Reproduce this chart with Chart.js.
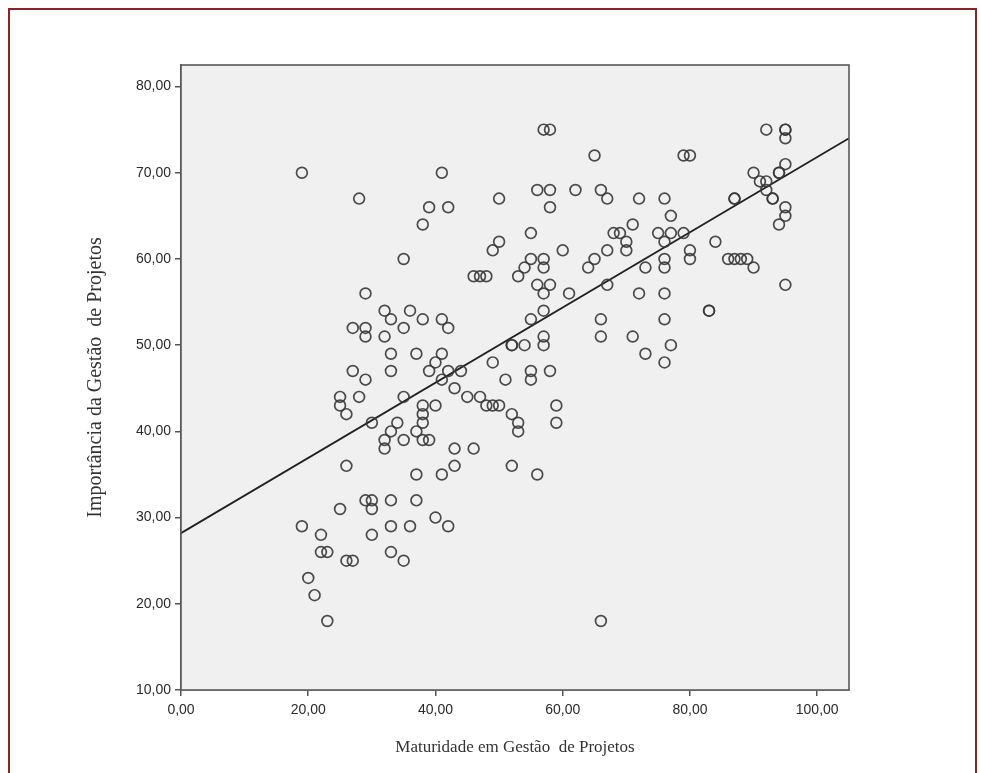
<!DOCTYPE html>
<html>
<head>
<meta charset="utf-8">
<script src="https://cdn.jsdelivr.net/npm/chart.js@4.4.1/dist/chart.umd.min.js"></script>
<style>
  html, body { margin: 0; padding: 0; background: #fff; }
  #wrap { position: relative; width: 981px; height: 773px; }
  #frame { position: absolute; left: 8px; top: 8px; width: 965px; height: 780px;
           border-top: 2px solid #8b2323; border-left: 2px solid #8b2323; border-right: 2px solid #8b2323; }
  canvas { position: absolute; left: 0; top: 0; }
</style>
</head>
<body>
<div id="wrap">
  <div id="frame"></div>
  <canvas id="myChart" width="981" height="773"></canvas>
</div>
<script>
// Maturidade (x) vs Importância (y)
const maturidade = [
  19, 41, 28, 39, 42, 38, 35, 29, 32, 36, 33, 38, 41, 27, 29, 29, 32, 35, 42, 33,
  37, 41, 40, 27, 33, 39, 42, 29, 41,
  25, 25, 28, 26, 35, 38, 40, 38, 38, 30, 34, 33, 37, 32, 32, 35, 38, 39, 43, 43,
  43, 26, 37, 41, 29, 30, 30, 33, 37, 25, 19, 33, 36, 40, 42, 22, 30, 22, 23, 33,
  26, 27, 35, 20, 21, 23,
  57, 58, 65, 50, 56, 58, 62, 66, 67, 58, 55, 50, 49, 60, 68, 69, 70, 70, 71, 67,
  65, 64, 46, 47, 48, 55, 54, 53, 57, 57, 56, 58, 57, 61, 67, 57, 55, 66, 66, 71,
  57, 57, 52, 52, 54, 49, 44, 51, 55, 55, 58,
  45, 47, 48, 49, 50, 52, 53, 53, 59, 59, 46, 52, 56, 66,
  92, 95, 95, 95, 79, 80, 95, 90, 94, 94, 91, 92, 92, 93, 93, 87, 87, 95, 95, 94,
  72, 76, 77, 75, 77, 79, 76, 84, 80, 80, 76, 76, 73, 86, 87, 88, 89, 90, 72, 76,
  95, 83, 83, 76, 77, 73, 76
];
const importancia = [
  70, 70, 67, 66, 66, 64, 60, 56, 54, 54, 53, 53, 53, 52, 52, 51, 51, 52, 52, 49,
  49, 49, 48, 47, 47, 47, 47, 46, 46,
  44, 43, 44, 42, 44, 43, 43, 42, 41, 41, 41, 40, 40, 39, 38, 39, 39, 39, 38, 36,
  45, 36, 35, 35, 32, 32, 31, 32, 32, 31, 29, 29, 29, 30, 29, 28, 28, 26, 26, 26,
  25, 25, 25, 23, 21, 18,
  75, 75, 72, 67, 68, 68, 68, 68, 67, 66, 63, 62, 61, 61, 63, 63, 62, 61, 64, 61,
  60, 59, 58, 58, 58, 60, 59, 58, 60, 59, 57, 57, 56, 56, 57, 54, 53, 53, 51, 51,
  51, 50, 50, 50, 50, 48, 47, 46, 47, 46, 47,
  44, 44, 43, 43, 43, 42, 41, 40, 43, 41, 38, 36, 35, 18,
  75, 75, 75, 74, 72, 72, 71, 70, 70, 70, 69, 69, 68, 67, 67, 67, 67, 66, 65, 64,
  67, 67, 65, 63, 63, 63, 62, 62, 61, 60, 60, 59, 59, 60, 60, 60, 60, 59, 56, 56,
  57, 54, 54, 53, 50, 49, 48
];

// fit line ends, read at the plot edges
const fitX = [0, 105];
const fitY = [28.2, 74.0];

const xTickValues = [0, 20, 40, 60, 80, 100];
const yTickValues = [10, 20, 30, 40, 50, 60, 70, 80];

const xTitle = 'Maturidade em Gestão  de Projetos';
const yTitle = 'Importância da Gestão  de Projetos';

var points = maturidade.map(function (v, i) { return { x: v, y: importancia[i] }; });
var fitLine = fitX.map(function (v, i) { return { x: v, y: fitY[i] }; });

function fmt(v) { return v.toFixed(2).replace('.', ','); }

// grey panel behind the points + frame around it
const panel = {
  id: 'panel',
  beforeDatasetsDraw: function (chart) {
    var a = chart.chartArea, c = chart.ctx;
    c.save();
    c.fillStyle = '#f0f0f0';
    c.fillRect(a.left, a.top, a.right - a.left, a.bottom - a.top);
    c.restore();
  },
  afterDraw: function (chart) {
    var a = chart.chartArea, c = chart.ctx;
    c.save();
    c.strokeStyle = '#5a5a5a';
    c.lineWidth = 1.6;
    c.strokeRect(a.left, a.top, a.right - a.left, a.bottom - a.top);
    c.restore();
  }
};

const ctx = document.getElementById('myChart');

var chart = new Chart(ctx, {
  type: 'scatter',
  data: {
    datasets: [
      {
        label: 'Casos',
        data: points,
        pointStyle: 'circle',
        pointRadius: 5.4,
        pointBorderWidth: 1.7,
        borderColor: 'rgba(55,55,55,0.9)',
        backgroundColor: 'rgba(0,0,0,0)',
        showLine: false
      },
      {
        label: 'Ajuste',
        data: fitLine,
        showLine: true,
        pointRadius: 0,
        borderColor: '#222',
        borderWidth: 1.8,
        fill: false
      }
    ]
  },
  options: {
    responsive: false,
    animation: false,
    layout: { padding: { left: 0, top: 65, right: 132, bottom: 0 } },
    plugins: { legend: { display: false }, tooltip: { enabled: false } },
    scales: {
      x: {
        type: 'linear',
        min: 0,
        max: 105,
        afterBuildTicks: function (s) { s.ticks = xTickValues.map(function (v) { return { value: v }; }); },
        afterFit: function (s) { s.height = 83; },
        grid: { drawOnChartArea: false, drawTicks: true, tickLength: 6, color: '#555', lineWidth: 1.5 },
        border: { display: true, color: '#555', width: 1.6 },
        ticks: {
          padding: 6,
          color: '#2a2a2a',
          maxRotation: 0,
          font: { family: 'Arial, "Liberation Sans", sans-serif', size: 14 },
          callback: function (v) { return fmt(v); }
        },
        title: {
          display: true,
          text: xTitle,
          color: '#333',
          padding: { top: 0, bottom: 15 },
          font: { family: '"Times New Roman", "Liberation Serif", serif', size: 17 }
        }
      },
      y: {
        type: 'linear',
        min: 10,
        max: 82.5,
        afterBuildTicks: function (s) { s.ticks = yTickValues.map(function (v) { return { value: v }; }); },
        afterFit: function (s) { s.width = 181; },
        grid: { drawOnChartArea: false, drawTicks: true, tickLength: 6, color: '#555', lineWidth: 1.5 },
        border: { display: true, color: '#555', width: 1.6 },
        ticks: {
          padding: 4,
          color: '#2a2a2a',
          font: { family: 'Arial, "Liberation Sans", sans-serif', size: 14 },
          callback: function (v) { return fmt(v); }
        },
        title: {
          display: true,
          text: yTitle,
          color: '#333',
          padding: { top: 84, bottom: 0 },
          font: { family: '"Times New Roman", "Liberation Serif", serif', size: 20 }
        }
      }
    }
  },
  plugins: [panel]
});
</script>
</body>
</html>
